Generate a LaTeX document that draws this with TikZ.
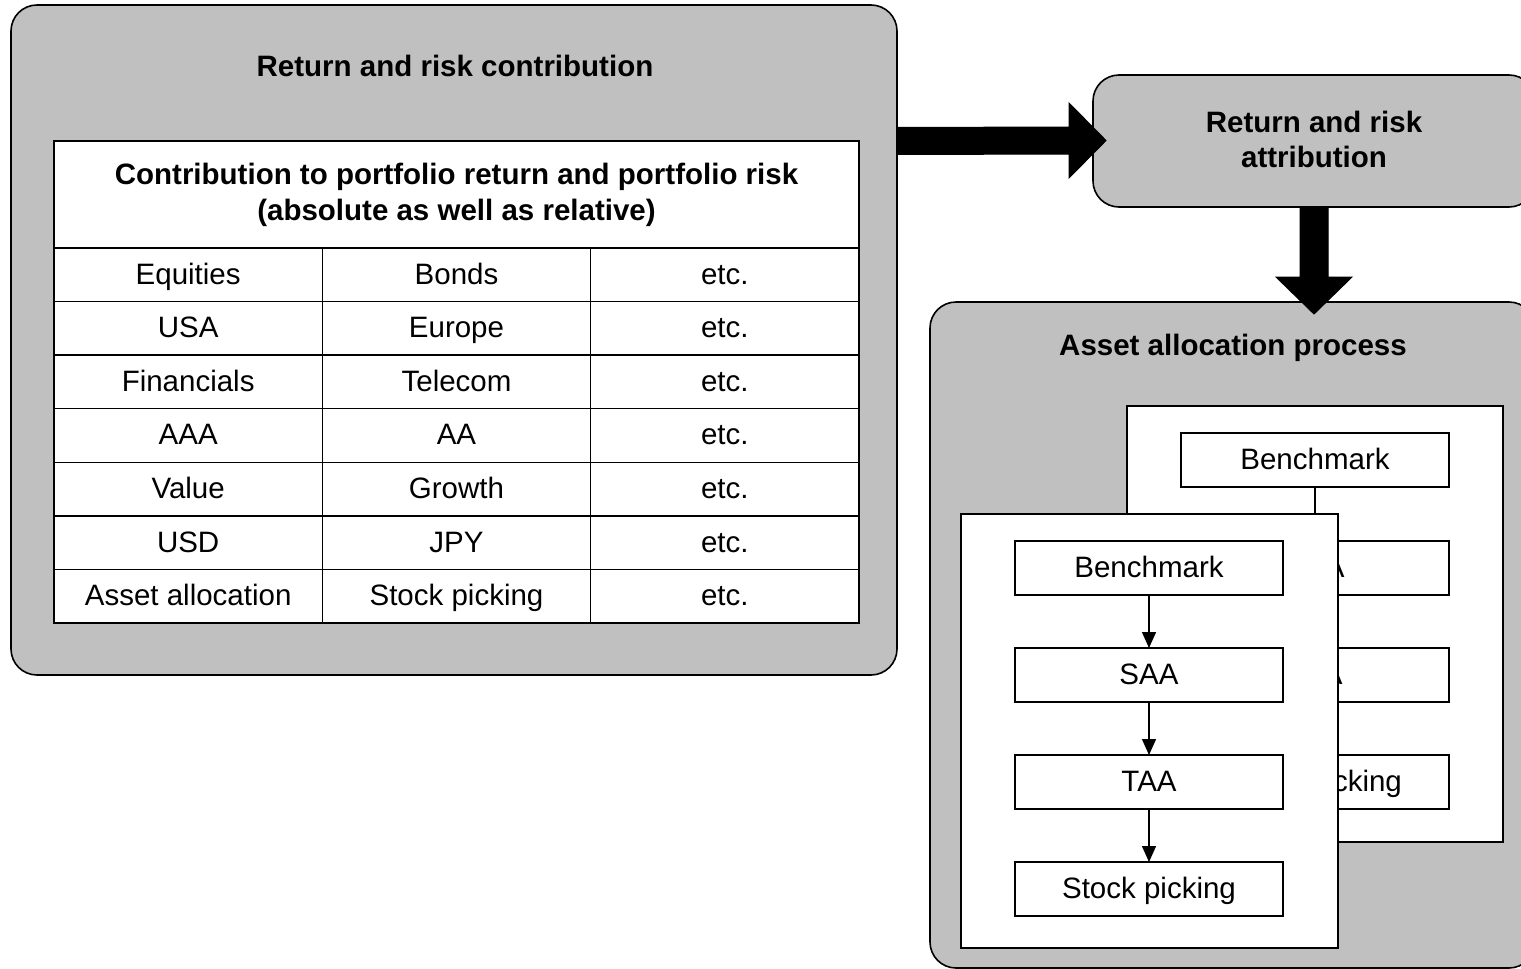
\documentclass[tikz,border=0pt]{standalone}
\usepackage{fontspec}
\setmainfont{Liberation Sans}
\usetikzlibrary{arrows.meta,calc}
\definecolor{panelgray}{HTML}{C0C0C0}

\begin{document}
\begin{tikzpicture}[x=1pt,y=-1pt,
  every node/.style={font=\fontsize{29.5}{36}\selectfont, outer sep=0pt, inner sep=0pt},
  panel/.style={draw, fill=panelgray, rounded corners=26pt, line width=1.6pt, anchor=north west},
  paneltitle/.style={font=\bfseries\fontsize{29.5}{36}\selectfont, align=center},
  celltext/.style={text height=23pt, text depth=4pt},
  cell/.style={draw, fill=white, line width=1.4pt, anchor=north west, celltext,
    minimum width=268.33pt, minimum height=53.57pt},
  page/.style={draw, fill=white, line width=1.4pt, anchor=north west},
  stepbox/.style={draw, fill=white, line width=1.4pt, anchor=north, celltext,
    minimum width=268pt, minimum height=54pt},
  flow/.style={line width=1.4pt, -{Triangle[width=14pt,length=16pt]}},
  blockarrow/.style={fill=black, draw=black, line width=1pt, line join=miter}
]
\useasboundingbox (0,0) rectangle (1521,969);
\clip (0,0) rectangle (1521,969);

% ---- contribution panel with its table ----
\node[panel, minimum width=886pt, minimum height=670pt] (contrib) at (11,5) {};
\node[paneltitle, celltext] (contribtitle) at (455,67) {Return and risk contribution};

\node[draw, fill=white, line width=1.4pt, anchor=north west,
  minimum width=805pt, minimum height=107pt, align=center,
  font=\bfseries\fontsize{29.5}{36}\selectfont] (thead) at (54,141)
  {Contribution to portfolio return and portfolio risk\\(absolute as well as relative)};

\foreach \a/\b [count=\r] in {Equities/Bonds, USA/Europe, Financials/Telecom,
    AAA/AA, Value/Growth, USD/JPY, Asset allocation/Stock picking} {
  \node[cell] (t\r-1) at (54, {248+(\r-1)*53.57}) {\a};
  \node[cell] (t\r-2) at ({54+268.33}, {248+(\r-1)*53.57}) {\b};
  \node[cell] (t\r-3) at ({54+2*268.33}, {248+(\r-1)*53.57}) {etc.};
}

% ---- attribution box ----
\node[panel, minimum width=442pt, minimum height=132pt, align=center,
  font=\bfseries\fontsize{29.5}{35}\selectfont, text depth=4pt] (attrib) at (1093,75)
  {Return and risk\\attribution};

% ---- asset allocation panel ----
\node[panel, minimum width=605pt, minimum height=666pt] (process) at (930,302) {};
\node[paneltitle, celltext] (processtitle) at (1233,346) {Asset allocation process};

% back page
\node[page, minimum width=376pt, minimum height=436pt] (backpage) at (1127,406) {};
\node[stepbox] (bb1) at (1315,433) {Benchmark};
\node[stepbox] (bb2) at (1315,541) {SAA};
\node[stepbox] (bb3) at (1315,648) {TAA};
\node[stepbox] (bb4) at (1315,755) {Stock picking};
\draw[flow] (bb1) -- (bb2);
\draw[flow] (bb2) -- (bb3);
\draw[flow] (bb3) -- (bb4);

% front page
\node[page, minimum width=377pt, minimum height=434pt] (frontpage) at (961,514) {};
\node[stepbox] (fb1) at (1149,541) {Benchmark};
\node[stepbox] (fb2) at (1149,648) {SAA};
\node[stepbox] (fb3) at (1149,755) {TAA};
\node[stepbox] (fb4) at (1149,862) {Stock picking};
\draw[flow] (fb1) -- (fb2);
\draw[flow] (fb2) -- (fb3);
\draw[flow] (fb3) -- (fb4);

% ---- block arrows between the panels ----
\coordinate (ra0) at (contrib.east |- attrib.west);
\coordinate (ra1) at ($(attrib.west)+(13,-0.5)$);
\path[blockarrow] ($(ra0)+(0,-13.5)$) -- ($(ra1)+(-37,-13.5)$) -- ($(ra1)+(-37,-37.5)$)
  -- (ra1) -- ($(ra1)+(-37,37.5)$) -- ($(ra1)+(-37,13.5)$) -- ($(ra0)+(0,13.5)$) -- cycle;

\coordinate (da0) at (attrib.south);
\coordinate (da1) at ($(attrib.south |- process.north)+(0,12)$);
\path[blockarrow] ($(da0)+(-14,0)$) -- ($(da1)+(-14,-37)$) -- ($(da1)+(-38,-37)$)
  -- (da1) -- ($(da1)+(38,-37)$) -- ($(da1)+(14,-37)$) -- ($(da0)+(14,0)$) -- cycle;
\end{tikzpicture}
\end{document}
